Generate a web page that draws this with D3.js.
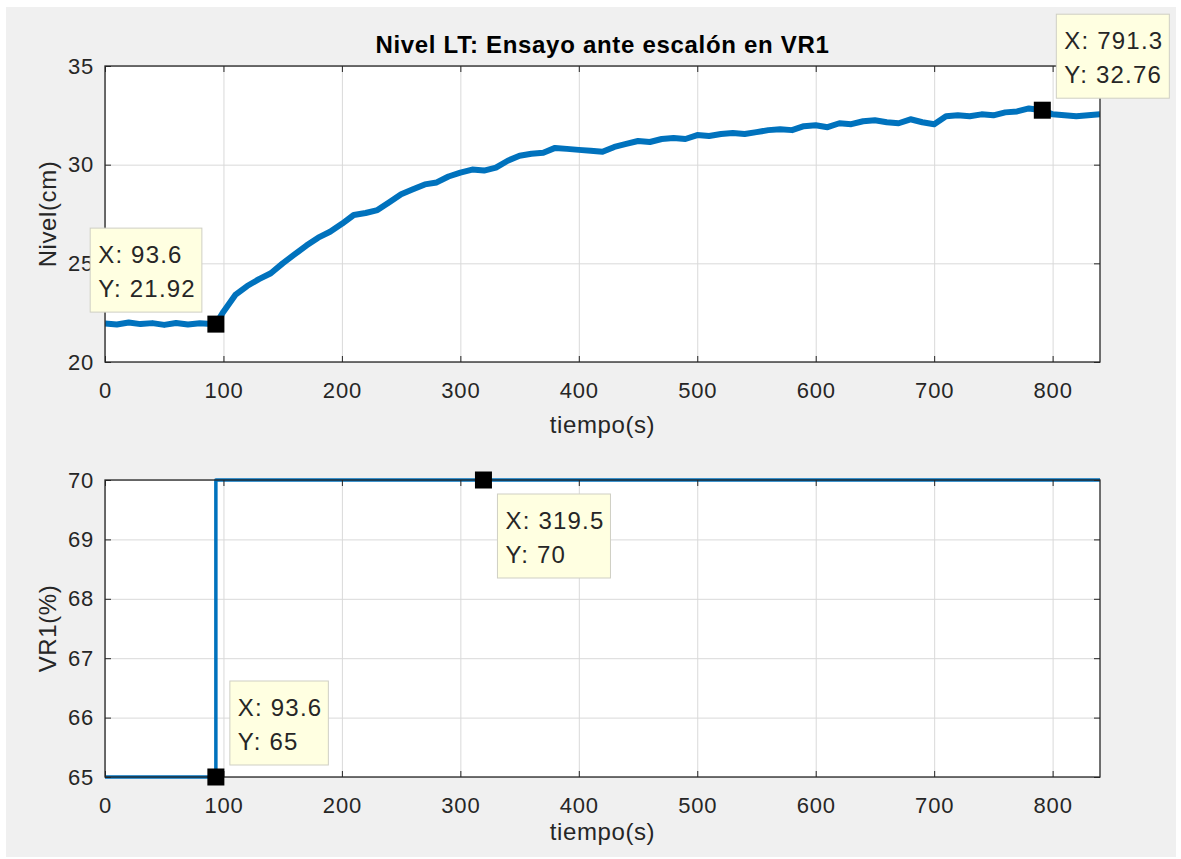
<!DOCTYPE html>
<html><head><meta charset="utf-8">
<script src="https://cdn.jsdelivr.net/npm/d3@7"></script>
<style>
body{margin:0;background:#fff;}
text{font-family:"Liberation Sans",Arial,Helvetica,sans-serif;}
</style>
</head><body>
<svg id="chart" width="1181" height="859"></svg>
<script>
// ---- data ----
const timeTop = [0,10,20,30,40,50,60,70,80,90,93.6,100,110,120,130,140,150,160,170,180,190,200,210,220,230,240,250,260,270,280,290,300,310,320,330,340,350,360,370,380,390,400,410,420,430,440,450,460,470,480,490,500,510,520,530,540,550,560,570,580,590,600,610,620,630,640,650,660,670,680,690,700,710,720,730,740,750,760,770,780,791.3,800,810,820,830,840];
const nivel = [21.95,21.9,22.0,21.92,21.97,21.88,21.98,21.9,21.96,21.93,21.92,22.55,23.4,23.85,24.2,24.5,25.0,25.45,25.9,26.3,26.6,27.0,27.45,27.55,27.7,28.1,28.5,28.75,29.0,29.1,29.4,29.6,29.75,29.7,29.85,30.2,30.45,30.55,30.6,30.85,30.8,30.75,30.7,30.65,30.9,31.05,31.2,31.15,31.3,31.35,31.3,31.5,31.45,31.55,31.6,31.55,31.65,31.75,31.8,31.75,31.95,32.0,31.9,32.1,32.05,32.2,32.25,32.15,32.1,32.3,32.15,32.05,32.45,32.5,32.45,32.55,32.5,32.65,32.7,32.85,32.76,32.55,32.5,32.45,32.5,32.55];
const timeBottom = [0,93.6,93.6,840];
const vr1 = [65,65,70,70];
const xTicks = [0,100,200,300,400,500,600,700,800];
const yTicksTop = [20,25,30,35];
const yTicksBottom = [65,66,67,68,69,70];
const tipTopX = [93.6,791.3];
const tipTopY = [21.92,32.76];
const tipTopDir = ["ul","ur"];
const tipBotX = [93.6,319.5];
const tipBotY = [65,70];
const tipBotDir = ["ur","lr"];
const titleText = "Nivel LT: Ensayo ante escalón en VR1";

// ---- layout ----
const svg = d3.select("#chart");
svg.append("rect").attr("x",6).attr("y",7).attr("width",1170).attr("height",850).attr("fill","#f0f0f0");

const X0 = 105, X1 = 1100;
const lineColor = "#0072BD";
const axColor = "#262626";

function panel(top, bottom, yDomain, yTicks, ylabel, xs, ys, lw, xlabOff) {
  const x = d3.scaleLinear().domain([0,840]).range([X0,X1]);
  const y = d3.scaleLinear().domain(yDomain).range([bottom, top]);
  const g = svg.append("g");
  g.append("rect").attr("x",X0).attr("y",top).attr("width",X1-X0).attr("height",bottom-top).attr("fill","#fff");
  // grid
  g.append("g").attr("transform",`translate(0,${bottom})`)
    .call(d3.axisBottom(x).tickValues(xTicks).tickSize(-(bottom-top)).tickFormat(""))
    .call(s=>{s.select(".domain").remove(); s.selectAll("line").attr("stroke","#d9d9d9");});
  g.append("g").attr("transform",`translate(${X0},0)`)
    .call(d3.axisLeft(y).tickValues(yTicks).tickSize(-(X1-X0)).tickFormat(""))
    .call(s=>{s.select(".domain").remove(); s.selectAll("line").attr("stroke","#d9d9d9");});
  // data line
  const clipId = "clip"+top;
  svg.append("clipPath").attr("id",clipId).append("rect").attr("x",X0).attr("y",top-4).attr("width",X1-X0).attr("height",bottom-top+8);
  const pts = xs.map((t,i)=>[t,ys[i]]);
  g.append("path").datum(pts).attr("clip-path",`url(#${clipId})`)
    .attr("d", d3.line().x(d=>x(d[0])).y(d=>y(d[1])))
    .attr("fill","none").attr("stroke",lineColor).attr("stroke-width",lw).attr("stroke-linejoin","round");
  // axes ticks
  const fmt = d3.format("d");
  g.append("g").attr("transform",`translate(0,${bottom})`)
    .call(d3.axisBottom(x).tickValues(xTicks).tickSize(-6).tickPadding(20).tickFormat(fmt))
    .call(s=>{s.select(".domain").remove(); s.selectAll("line").attr("stroke",axColor);
      s.selectAll("text").attr("fill",axColor).style("font-size","22px").style("letter-spacing","0.8px");});
  g.append("g").attr("transform",`translate(0,${top})`)
    .call(d3.axisTop(x).tickValues(xTicks).tickSize(-6).tickFormat(""))
    .call(s=>{s.select(".domain").remove(); s.selectAll("line").attr("stroke",axColor);});
  g.append("g").attr("transform",`translate(${X0},0)`)
    .call(d3.axisLeft(y).tickValues(yTicks).tickSize(-6).tickPadding(11).tickFormat(fmt))
    .call(s=>{s.select(".domain").remove(); s.selectAll("line").attr("stroke",axColor);
      s.selectAll("text").attr("fill",axColor).style("font-size","22px").style("letter-spacing","0.8px");});
  g.append("g").attr("transform",`translate(${X1},0)`)
    .call(d3.axisRight(y).tickValues(yTicks).tickSize(-6).tickFormat(""))
    .call(s=>{s.select(".domain").remove(); s.selectAll("line").attr("stroke",axColor);});
  // box
  g.append("rect").attr("x",X0).attr("y",top).attr("width",X1-X0).attr("height",bottom-top)
    .attr("fill","none").attr("stroke",axColor).attr("stroke-width",1.3);
  // labels
  g.append("text").attr("x",(X0+X1)/2).attr("y",bottom+xlabOff).attr("text-anchor","middle")
    .attr("fill",axColor).style("font-size","24px").style("letter-spacing","0.6px").text("tiempo(s)");
  g.append("text").attr("transform",`translate(56,${(top+bottom)/2}) rotate(-90)`).attr("text-anchor","middle")
    .attr("fill",axColor).style("font-size","24px").style("letter-spacing","0.6px").text(ylabel);
  return {x,y,g};
}

const p1 = panel(66, 362, [20,35], yTicksTop, "Nivel(cm)", timeTop, nivel, 6, 71);
const p2 = panel(480, 777, [65,70], yTicksBottom, "VR1(%)", timeBottom, vr1, 3.5, 63);

svg.append("text").attr("x",(X0+X1)/2).attr("y",53).attr("text-anchor","middle")
  .attr("fill","#000").style("font-size","24px").style("font-weight","bold").style("letter-spacing","0.7px").text(titleText);

// ---- datatips ----
const tipLayer = svg.append("g");
function tips(p, tx, ty, dirs) {
  tx.forEach((t,i)=>{
    const mx = p.x(t), my = p.y(ty[i]);
    tipLayer.append("rect").attr("x",mx-8.5).attr("y",my-8.5).attr("width",17).attr("height",17).attr("fill","#000");
  });
  tx.forEach((t,i)=>{
    const mx = p.x(t), my = p.y(ty[i]);
    const g = tipLayer.append("g");
    const r = g.append("rect").attr("fill","#ffffe1").attr("stroke","#cfcfc4").attr("stroke-width",1);
    const t1 = g.append("text").attr("fill","#262626").style("font-size","24px").style("letter-spacing","1.2px").text("X: "+t);
    const t2 = g.append("text").attr("fill","#262626").style("font-size","24px").style("letter-spacing","1.2px").text("Y: "+ty[i]);
    const w = Math.max(t1.node().getComputedTextLength(), t2.node().getComputedTextLength()) + 14;
    const h = 84;
    const d = dirs[i];
    const bx = d[1]==="r" ? mx+14 : mx-14-w;
    const by = d[0]==="u" ? my-12-h : my+14;
    r.attr("x",bx).attr("y",by).attr("width",w).attr("height",h);
    t1.attr("x",bx+8).attr("y",by+35);
    t2.attr("x",bx+8).attr("y",by+69);
  });
}
tips(p1, tipTopX, tipTopY, tipTopDir);
tips(p2, tipBotX, tipBotY, tipBotDir);
</script>
</body></html>
